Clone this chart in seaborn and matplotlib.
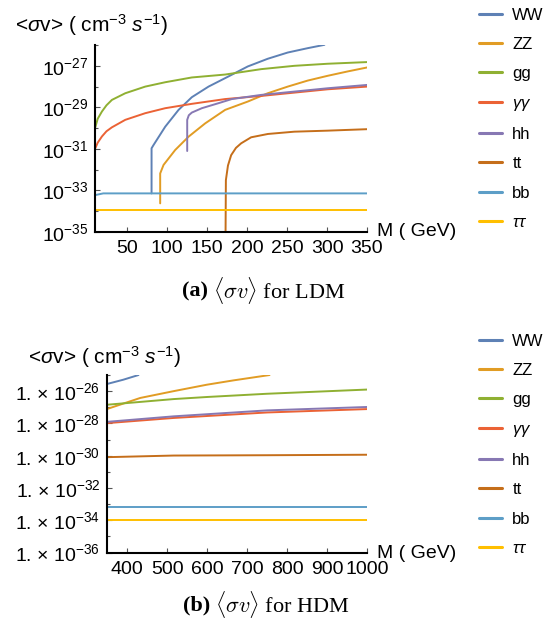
import numpy as np
import pandas as pd
import matplotlib
matplotlib.use("Agg")
import matplotlib.pyplot as plt
from matplotlib.ticker import NullFormatter
import seaborn as sns

# channels, legend labels and Mathematica default colours
channels = ["WW", "ZZ", "gg", "yy", "hh", "tt", "bb", "tautau"]
labels = ["WW", "ZZ", "gg", r"$\gamma\gamma$", "hh", "tt", "bb", r"$\tau\tau$"]
colors = ["#5E81B5", "#E19C24", "#8FB032", "#EB6235", "#8778B3", "#C56E1A", "#5D9EC7", "#FFBF00"]

# (a) LDM: M in GeV, log10 <sigma v>
ldm_ww_m = [80.4, 80.4, 82.9, 97.5, 114.2, 130.8, 151.7, 176.7, 200.8, 225.8, 250.8, 275.8, 296.7]
ldm_ww_v = [-33.14, -30.97, -30.81, -29.93, -29.12, -28.51, -28.0, -27.51, -27.03, -26.66, -26.36, -26.15, -25.99]
ldm_zz_m = [91.2, 91.2, 95.4, 110, 126.7, 147.5, 172.5, 200.8, 225.8, 250.8, 275.8, 300.8, 325.8, 350]
ldm_zz_v = [-33.62, -32.18, -31.77, -31.05, -30.41, -29.77, -29.12, -28.72, -28.32, -28.0, -27.71, -27.48, -27.27, -27.08]
ldm_gg_m = [10, 13, 18.3, 24, 30.8, 47.5, 72.5, 97.5, 130.8, 172.5, 217.5, 259, 300.8, 350]
ldm_gg_v = [-29.96, -29.55, -29.2, -28.9, -28.64, -28.32, -28.0, -27.79, -27.56, -27.42, -27.16, -27.0, -26.9, -26.82]
ldm_yy_m = [10, 13, 18.3, 24, 30.8, 47.5, 72.5, 97.5, 130.8, 172.5, 217.5, 259, 300.8, 350]
ldm_yy_v = [-30.97, -30.7, -30.4, -30.15, -29.96, -29.6, -29.28, -29.04, -28.83, -28.6, -28.45, -28.29, -28.13, -28.0]
ldm_hh_m = [125, 125, 127, 130.8, 143.3, 164, 180.8, 217.5, 259, 300.8, 350]
ldm_hh_v = [-31.1, -29.6, -29.38, -29.25, -29.04, -28.8, -28.6, -28.4, -28.24, -28.08, -27.92]
ldm_tt_m = [173, 173.4, 176, 180, 186, 192.5, 205, 226, 259, 301, 350]
ldm_tt_v = [-35.0, -32.5, -31.8, -31.3, -30.95, -30.73, -30.44, -30.28, -30.17, -30.12, -30.05]
ldm_bb_m = [10, 20, 350]
ldm_bb_v = [-33.22, -33.14, -33.14]
ldm_ta_m = [10, 350]
ldm_ta_v = [-33.95, -33.95]

# (b) HDM
hdm_ww_m = [350, 390, 428]
hdm_ww_v = [-25.55, -25.29, -25.0]
hdm_zz_m = [350, 432.5, 515.8, 599, 666, 756]
hdm_zz_v = [-27.1, -26.42, -26.0, -25.6, -25.33, -25.0]
hdm_gg_m = [350, 516, 600, 750, 1000]
hdm_gg_v = [-26.84, -26.49, -26.36, -26.16, -25.9]
hdm_yy_m = [350, 516, 750, 1000]
hdm_yy_v = [-27.98, -27.66, -27.32, -27.11]
hdm_hh_m = [350, 516, 750, 1000]
hdm_hh_v = [-27.9, -27.56, -27.19, -26.98]
hdm_tt_m = [350, 516, 750, 1000]
hdm_tt_v = [-30.09, -29.99, -29.97, -29.94]
hdm_bb_m = [350, 1000]
hdm_bb_v = [-33.15, -33.15]
hdm_ta_m = [350, 1000]
hdm_ta_v = [-33.98, -33.98]

ldm_ticks = [50, 100, 150, 200, 250, 300, 350]
hdm_ticks = [400, 500, 600, 700, 800, 900, 1000]


def make_frame(pairs):
    rows = []
    for ch, (m, v) in zip(channels, pairs):
        for mi, vi in zip(m, v):
            rows.append({"M": mi, "sv": 10.0 ** vi, "channel": ch})
    return pd.DataFrame(rows)


ldm = make_frame([(ldm_ww_m, ldm_ww_v), (ldm_zz_m, ldm_zz_v), (ldm_gg_m, ldm_gg_v),
                  (ldm_yy_m, ldm_yy_v), (ldm_hh_m, ldm_hh_v), (ldm_tt_m, ldm_tt_v),
                  (ldm_bb_m, ldm_bb_v), (ldm_ta_m, ldm_ta_v)])
hdm = make_frame([(hdm_ww_m, hdm_ww_v), (hdm_zz_m, hdm_zz_v), (hdm_gg_m, hdm_gg_v),
                  (hdm_yy_m, hdm_yy_v), (hdm_hh_m, hdm_hh_v), (hdm_tt_m, hdm_tt_v),
                  (hdm_bb_m, hdm_bb_v), (hdm_ta_m, hdm_ta_v)])

sns.set_style("ticks")
plt.rcParams["font.family"] = ["Liberation Sans", "DejaVu Sans"]
plt.rcParams["mathtext.fontset"] = "custom"
plt.rcParams["mathtext.rm"] = "Liberation Sans"
plt.rcParams["mathtext.it"] = "Liberation Sans:italic"
plt.rcParams["mathtext.bf"] = "Liberation Sans:bold"
plt.rcParams["text.color"] = "black"

fig = plt.figure(figsize=(5.55, 6.3), dpi=100)
ax_a = fig.add_axes([0.1717, 0.6317, 0.4896, 0.2968])
ax_b = fig.add_axes([0.1933, 0.1230, 0.4680, 0.2817])

palette = dict(zip(channels, colors))


def draw_panel(ax, df, xlim, ylim, xticks, ymajor, yminor, ylabfmt):
    sns.lineplot(data=df, x="M", y="sv", hue="channel", hue_order=channels,
                 palette=palette, sort=False, estimator=None, legend=False,
                 linewidth=1.4, ax=ax)
    ax.set_yscale("log")
    ax.set_xlim(*xlim)
    ax.set_ylim(*ylim)
    ax.set_xticks(xticks)
    ax.set_xticklabels([str(t) for t in xticks])
    ax.set_yticks([10.0 ** e for e in ymajor])
    ax.set_yticklabels([ylabfmt % e for e in ymajor])
    ax.set_yticks([10.0 ** e for e in yminor], minor=True)
    ax.yaxis.set_minor_formatter(NullFormatter())
    ax.set_xticks([], minor=True)
    ax.set_xlabel("")
    ax.set_ylabel("")
    for s in ["top", "right"]:
        ax.spines[s].set_visible(False)
    for s in ["left", "bottom"]:
        ax.spines[s].set_linewidth(1.5)
        ax.spines[s].set_color("black")
    ax.tick_params(axis="both", which="major", direction="in", length=3.5,
                   width=0.8, color="#555555", labelsize=14, labelcolor="black")
    ax.tick_params(axis="y", which="minor", direction="in", length=2.5,
                   width=0.8, color="#555555")
    ax.tick_params(axis="y", pad=5)
    ax.tick_params(axis="x", pad=6)
    handles = ax.get_lines()[:len(channels)]
    return handles


h_a = draw_panel(ax_a, ldm, (10, 350), (1e-35, 1e-26), ldm_ticks,
                 [-35, -33, -31, -29, -27], [-34, -32, -30, -28, -26], "10$^{%d}$")
h_b = draw_panel(ax_b, hdm, (350, 1000), (1e-36, 1e-25), hdm_ticks,
                 [-36, -34, -32, -30, -28, -26], [-35, -33, -31, -29, -27, -25],
                 "1. \u00d7 10$^{%d}$")

ylab = "<$\\sigma$v> ( cm$^{-3}$ $s^{-1}$)"
fig.text(15 / 555, 1 - 25 / 630, ylab, ha="left", va="center", fontsize=15)
fig.text(28 / 555, 1 - 357 / 630, ylab, ha="left", va="center", fontsize=15)
fig.text(377 / 555, 1 - 232 / 630, "M ( GeV)", ha="left", va="center", fontsize=14)
fig.text(377 / 555, 1 - 553 / 630, "M ( GeV)", ha="left", va="center", fontsize=14)

for ax, handles, top in [(ax_a, h_a, 0.988), (ax_b, h_b, 0.4706)]:
    leg = ax.legend(handles, labels, loc="upper left", bbox_to_anchor=(479 / 555, top),
                    bbox_transform=fig.transFigure, frameon=False, fontsize=12,
                    handlelength=1.4, handletextpad=0.6, labelspacing=0.86,
                    borderpad=0, borderaxespad=0)
    for ln in leg.get_lines():
        ln.set_linewidth(2.2)

# captions
fig.text(208 / 555, 1 - 291 / 630, "(a)", ha="right", va="center", fontsize=16,
         family="Liberation Serif", fontweight="bold")
fig.text(213 / 555, 1 - 291 / 630, r"$\langle\sigma v\rangle$ for LDM", ha="left",
         va="center", fontsize=16, family="Liberation Serif", math_fontfamily="cm")
fig.text(210 / 555, 1 - 605 / 630, "(b)", ha="right", va="center", fontsize=16,
         family="Liberation Serif", fontweight="bold")
fig.text(215 / 555, 1 - 605 / 630, r"$\langle\sigma v\rangle$ for HDM", ha="left",
         va="center", fontsize=16, family="Liberation Serif", math_fontfamily="cm")

fig.savefig("out.png", dpi=100)
